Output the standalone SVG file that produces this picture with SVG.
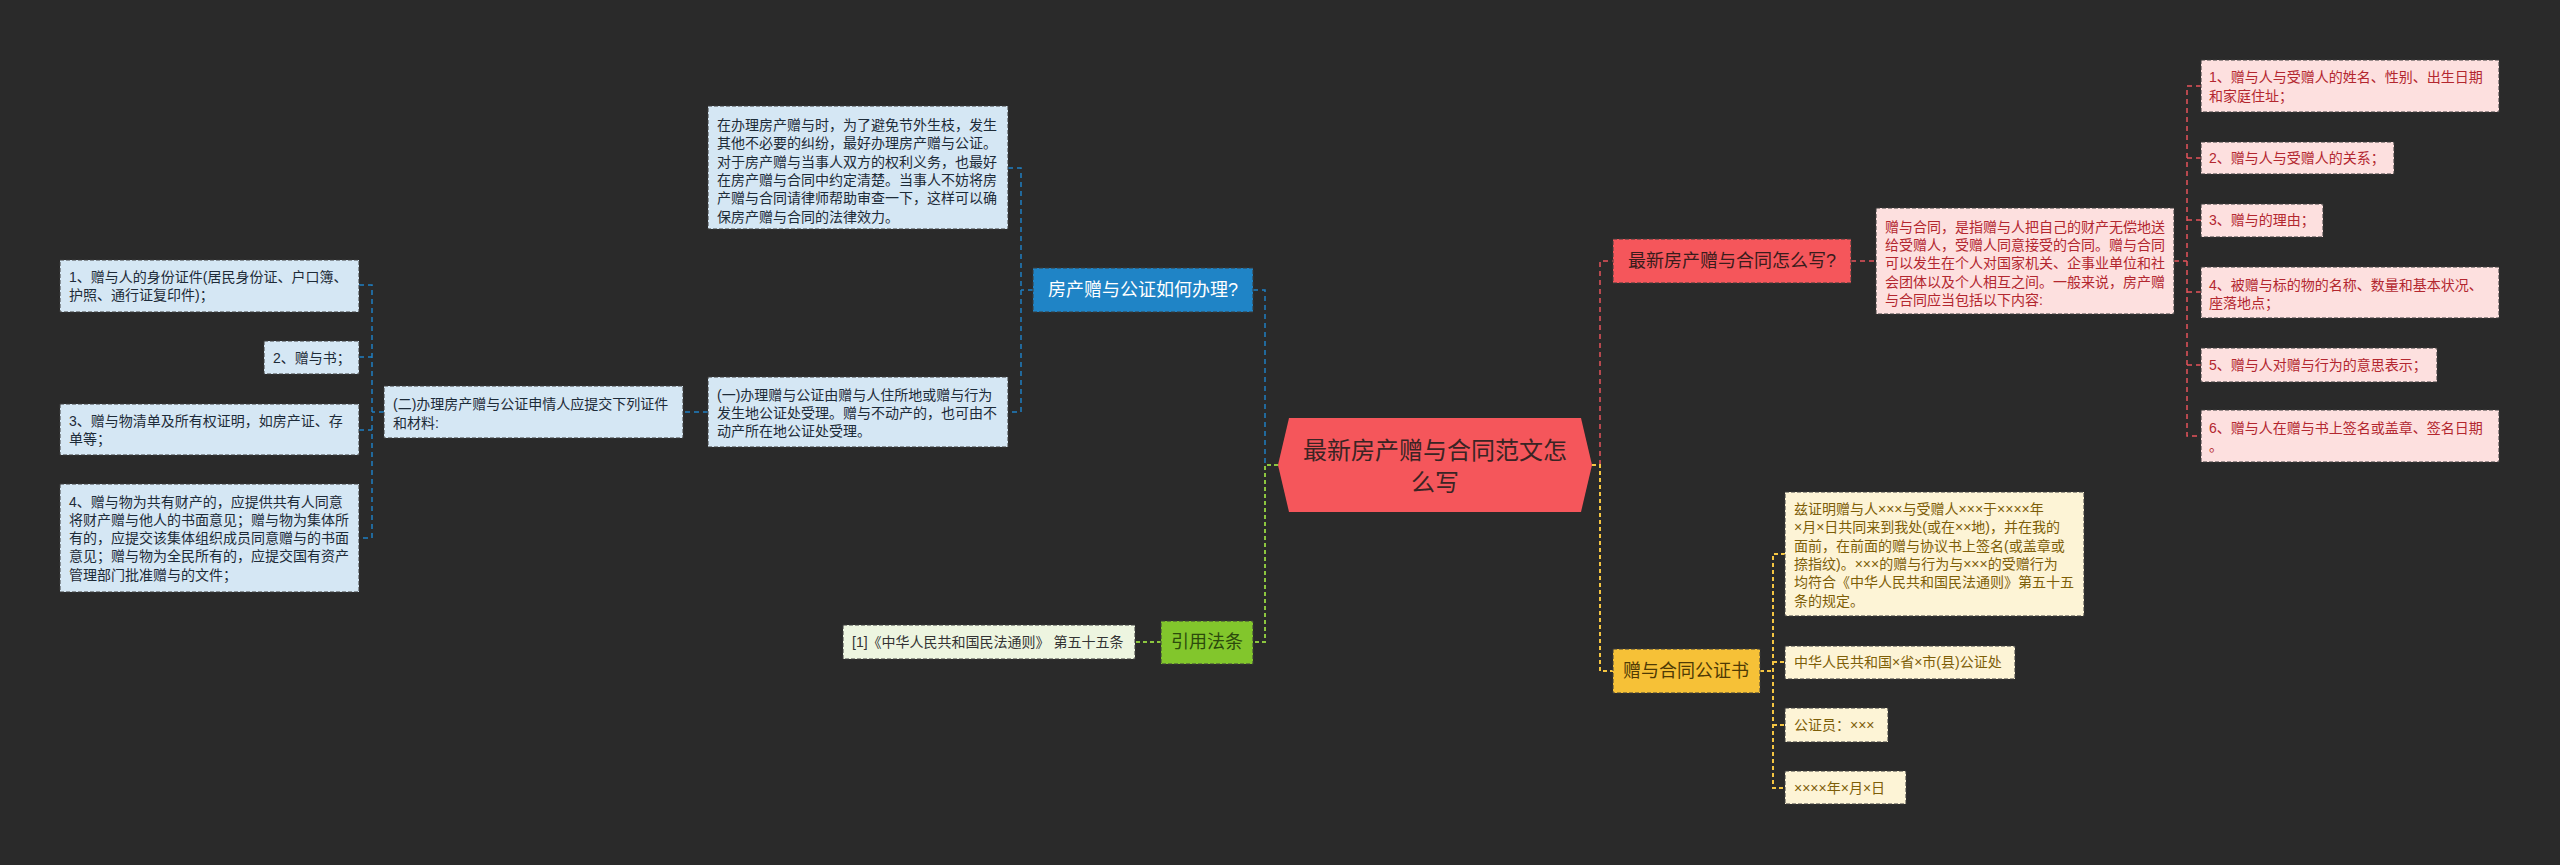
<svg xmlns="http://www.w3.org/2000/svg" width="2560" height="865" viewBox="0 0 2560 865">
<style>
text{font-family:"Liberation Sans","Noto Sans CJK SC",sans-serif;}
.t14{font-size:14px;}
.t18{font-size:18px;}
.box{stroke:#3a3a3a;stroke-width:1;stroke-dasharray:4 2;}
.bluebox{fill:#d5e7f4;}
.bluetxt{fill:#1d2b38;}
.pinkbox{fill:#fde0df;}
.pinktxt{fill:#b3272f;}
.yelbox{fill:#fdf4d6;}
.yeltxt{fill:#7d5e08;}
.c{fill:none;stroke-width:1.5;stroke-dasharray:5 4;}
.cb{stroke:#1f7fc2;}
.cg{stroke:#8cc63f;stroke-width:2;stroke-dasharray:4 3;}
.cr{stroke:#e5535b;}
.cy{stroke:#f4c542;stroke-width:2;stroke-dasharray:4 3;}
</style>
<rect x="0" y="0" width="2560" height="865" fill="#2a2a2a"/>

<g id="connectors">
<path class="c cb" d="M1253,290 H1265 V465"/>
<path class="c cb" d="M1033,290 H1021"/>
<path class="c cb" d="M1008,168 H1021 V412 H1008"/>
<path class="c cb" d="M708,412 H683"/>
<path class="c cb" d="M384,412 H372"/>
<path class="c cb" d="M359,285 H372 V538 H359"/>
<path class="c cb" d="M359,357 H372"/>
<path class="c cb" d="M359,430 H372"/>
<path class="c cg" d="M1278,465 H1265 V642 H1253"/>
<path class="c cg" d="M1161,642 H1135"/>
<path class="c cr" d="M1600,465 V261 H1613"/>
<path class="c cr" d="M1851,261 H1876"/>
<path class="c cr" d="M2174,261 H2187"/>
<path class="c cr" d="M2201,86 H2187 V436 H2201"/>
<path class="c cr" d="M2187,158 H2201"/>
<path class="c cr" d="M2187,220 H2201"/>
<path class="c cr" d="M2187,292 H2201"/>
<path class="c cr" d="M2187,365 H2201"/>
<path class="c cy" d="M1592,465 H1600 V671 H1613"/>
<path class="c cy" d="M1760,671 H1773"/>
<path class="c cy" d="M1785,554 H1773 V788 H1785"/>
<path class="c cy" d="M1773,662 H1785"/>
<path class="c cy" d="M1773,725 H1785"/>
</g>

<g id="root">
<polygon points="1289,418 1581,418 1592,465 1581,512 1289,512 1278,465" fill="#f5565b"/>
<text x="1435" y="459" font-size="24" fill="#3a2424" text-anchor="middle">最新房产赠与合同范文怎</text>
<text x="1435" y="491" font-size="24" fill="#3a2424" text-anchor="middle">么写</text>
</g>

<g id="n-blue">
<rect class="box" x="1033" y="268" width="220" height="44" fill="#1f84c6"/>
<text class="t18" x="1143" y="296" fill="#ffffff" text-anchor="middle">房产赠与公证如何办理?</text>
</g>

<g id="n-blue-intro">
<rect class="box bluebox" x="708" y="106" width="300" height="123"/>
<text class="t14 bluetxt" x="717" y="130">在办理房产赠与时，为了避免节外生枝，发生</text>
<text class="t14 bluetxt" x="717" y="148">其他不必要的纠纷，最好办理房产赠与公证。</text>
<text class="t14 bluetxt" x="717" y="167">对于房产赠与当事人双方的权利义务，也最好</text>
<text class="t14 bluetxt" x="717" y="185">在房产赠与合同中约定清楚。当事人不妨将房</text>
<text class="t14 bluetxt" x="717" y="203">产赠与合同请律师帮助审查一下，这样可以确</text>
<text class="t14 bluetxt" x="717" y="222">保房产赠与合同的法律效力。</text>
</g>

<g id="n-blue-1">
<rect class="box bluebox" x="708" y="377" width="300" height="70"/>
<text class="t14 bluetxt" x="717" y="400">(一)办理赠与公证由赠与人住所地或赠与行为</text>
<text class="t14 bluetxt" x="717" y="418">发生地公证处受理。赠与不动产的，也可由不</text>
<text class="t14 bluetxt" x="717" y="436">动产所在地公证处受理。</text>
</g>

<g id="n-blue-2">
<rect class="box bluebox" x="384" y="386" width="299" height="52"/>
<text class="t14 bluetxt" x="393" y="409">(二)办理房产赠与公证申情人应提交下列证件</text>
<text class="t14 bluetxt" x="393" y="428">和材料:</text>
</g>

<g id="n-doc-1">
<rect class="box bluebox" x="60" y="260" width="299" height="52"/>
<text class="t14 bluetxt" x="69" y="282">1、赠与人的身份证件(居民身份证、户口簿、</text>
<text class="t14 bluetxt" x="69" y="300">护照、通行证复印件)；</text>
</g>

<g id="n-doc-2">
<rect class="box bluebox" x="264" y="341" width="95" height="33"/>
<text class="t14 bluetxt" x="273" y="363">2、赠与书；</text>
</g>

<g id="n-doc-3">
<rect class="box bluebox" x="60" y="404" width="299" height="51"/>
<text class="t14 bluetxt" x="69" y="426">3、赠与物清单及所有权证明，如房产证、存</text>
<text class="t14 bluetxt" x="69" y="444">单等；</text>
</g>

<g id="n-doc-4">
<rect class="box bluebox" x="60" y="484" width="299" height="108"/>
<text class="t14 bluetxt" x="69" y="507">4、赠与物为共有财产的，应提供共有人同意</text>
<text class="t14 bluetxt" x="69" y="525">将财产赠与他人的书面意见；赠与物为集体所</text>
<text class="t14 bluetxt" x="69" y="543">有的，应提交该集体组织成员同意赠与的书面</text>
<text class="t14 bluetxt" x="69" y="561">意见；赠与物为全民所有的，应提交国有资产</text>
<text class="t14 bluetxt" x="69" y="580">管理部门批准赠与的文件；</text>
</g>

<g id="n-green">
<rect class="box" x="1161" y="621" width="92" height="43" fill="#82c62c"/>
<text class="t18" x="1207" y="648" fill="#2c4a0c" text-anchor="middle">引用法条</text>
</g>

<g id="n-green-1">
<rect class="box" x="843" y="625" width="292" height="34" fill="#edf5e0"/>
<text class="t14" x="852" y="647" fill="#333333">[1]《中华人民共和国民法通则》 第五十五条</text>
</g>

<g id="n-red">
<rect class="box" x="1613" y="239" width="238" height="44" fill="#f5565b"/>
<text class="t18" x="1732" y="267" fill="#3a1c1c" text-anchor="middle">最新房产赠与合同怎么写?</text>
</g>

<g id="n-red-intro">
<rect class="box pinkbox" x="1876" y="208" width="298" height="106"/>
<text class="t14 pinktxt" x="1885" y="232">赠与合同，是指赠与人把自己的财产无偿地送</text>
<text class="t14 pinktxt" x="1885" y="250">给受赠人，受赠人同意接受的合同。赠与合同</text>
<text class="t14 pinktxt" x="1885" y="268">可以发生在个人对国家机关、企事业单位和社</text>
<text class="t14 pinktxt" x="1885" y="287">会团体以及个人相互之间。一般来说，房产赠</text>
<text class="t14 pinktxt" x="1885" y="305">与合同应当包括以下内容:</text>
</g>

<g id="n-red-1">
<rect class="box pinkbox" x="2201" y="60" width="298" height="52"/>
<text class="t14 pinktxt" x="2209" y="82">1、赠与人与受赠人的姓名、性别、出生日期</text>
<text class="t14 pinktxt" x="2209" y="101">和家庭住址；</text>
</g>

<g id="n-red-2">
<rect class="box pinkbox" x="2201" y="142" width="193" height="32"/>
<text class="t14 pinktxt" x="2209" y="163">2、赠与人与受赠人的关系；</text>
</g>

<g id="n-red-3">
<rect class="box pinkbox" x="2201" y="204" width="122" height="33"/>
<text class="t14 pinktxt" x="2209" y="225">3、赠与的理由；</text>
</g>

<g id="n-red-4">
<rect class="box pinkbox" x="2201" y="267" width="298" height="51"/>
<text class="t14 pinktxt" x="2209" y="290">4、被赠与标的物的名称、数量和基本状况、</text>
<text class="t14 pinktxt" x="2209" y="308">座落地点；</text>
</g>

<g id="n-red-5">
<rect class="box pinkbox" x="2201" y="348" width="236" height="34"/>
<text class="t14 pinktxt" x="2209" y="370">5、赠与人对赠与行为的意思表示；</text>
</g>

<g id="n-red-6">
<rect class="box pinkbox" x="2201" y="410" width="298" height="52"/>
<text class="t14 pinktxt" x="2209" y="433">6、赠与人在赠与书上签名或盖章、签名日期</text>
<text class="t14 pinktxt" x="2209" y="451">。</text>
</g>

<g id="n-yellow">
<rect class="box" x="1613" y="649" width="147" height="44" fill="#f6c137"/>
<text class="t18" x="1686" y="677" fill="#4e3a05" text-anchor="middle">赠与合同公证书</text>
</g>

<g id="n-yellow-1">
<rect class="box yelbox" x="1785" y="492" width="299" height="124"/>
<text class="t14 yeltxt" x="1794" y="514">兹证明赠与人×××与受赠人×××于××××年</text>
<text class="t14 yeltxt" x="1794" y="532">×月×日共同来到我处(或在××地)，并在我的</text>
<text class="t14 yeltxt" x="1794" y="551">面前，在前面的赠与协议书上签名(或盖章或</text>
<text class="t14 yeltxt" x="1794" y="569">捺指纹)。×××的赠与行为与×××的受赠行为</text>
<text class="t14 yeltxt" x="1794" y="587">均符合《中华人民共和国民法通则》第五十五</text>
<text class="t14 yeltxt" x="1794" y="606">条的规定。</text>
</g>

<g id="n-yellow-2">
<rect class="box yelbox" x="1785" y="646" width="230" height="33"/>
<text class="t14 yeltxt" x="1794" y="667">中华人民共和国×省×市(县)公证处</text>
</g>

<g id="n-yellow-3">
<rect class="box yelbox" x="1785" y="708" width="103" height="34"/>
<text class="t14 yeltxt" x="1794" y="730">公证员：×××</text>
</g>

<g id="n-yellow-4">
<rect class="box yelbox" x="1785" y="771" width="121" height="33"/>
<text class="t14 yeltxt" x="1794" y="793">××××年×月×日</text>
</g>
</svg>
